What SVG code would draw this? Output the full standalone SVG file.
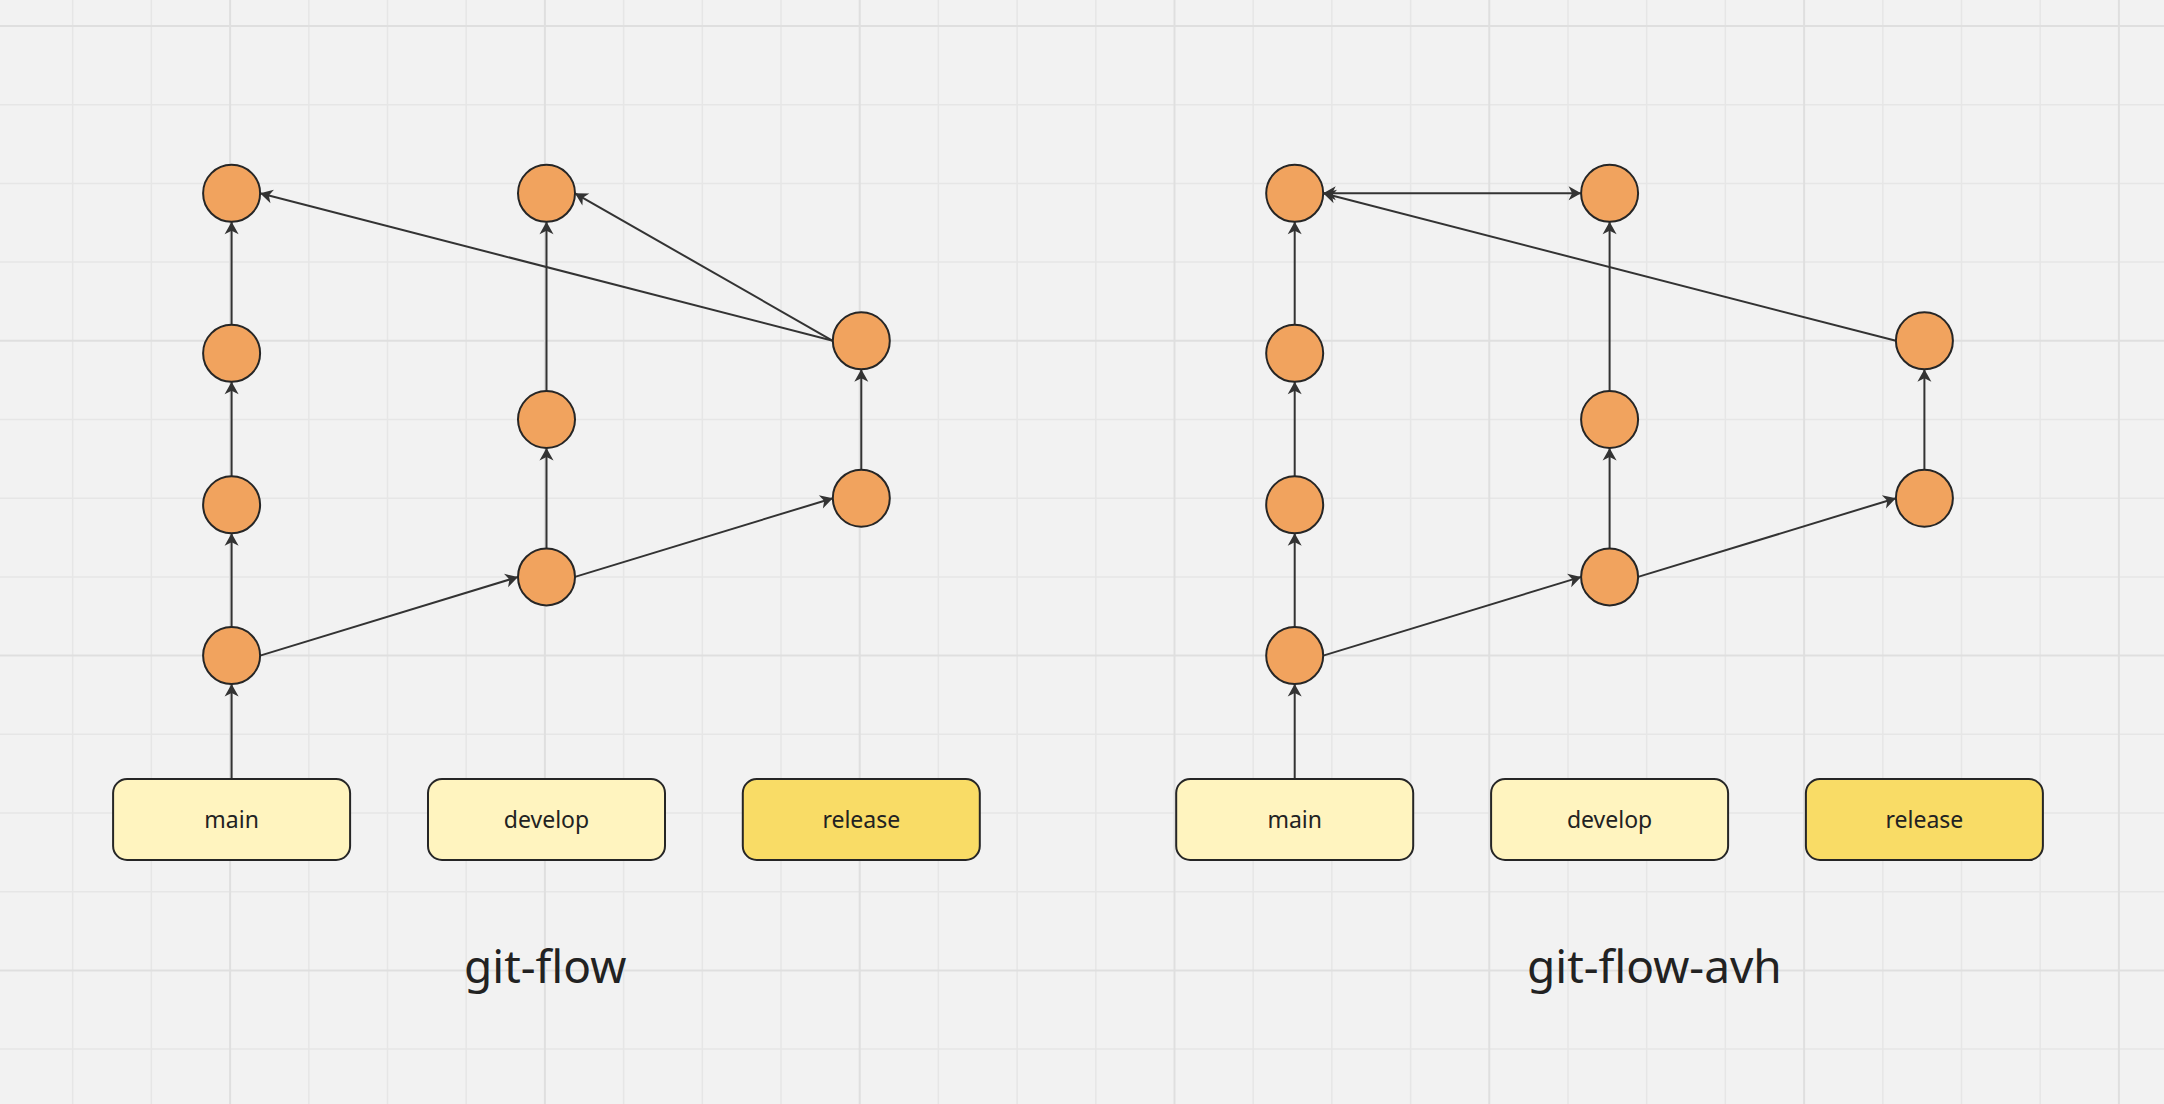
<svg xmlns="http://www.w3.org/2000/svg" width="2164" height="1104" viewBox="0 0 2164 1104">
<style>
.minor{stroke:#e6e6e6;stroke-width:1.5;fill:none}
.major{stroke:#dfdfdf;stroke-width:2;fill:none}
.commit{fill:#f1a35e;stroke:#262626;stroke-width:2}
.branch{fill:#fff4bf;stroke:#262626;stroke-width:2}
.branch.rel{fill:#f9dc66}
.lbl{font-family:"Noto Sans","Open Sans",sans-serif;font-size:23px;fill:#222;text-anchor:middle}
.title{font-family:"Noto Sans","Open Sans",sans-serif;font-size:46px;fill:#222}
.edge{stroke:#333;stroke-width:2;fill:none;marker-end:url(#arr)}
</style>
<defs>
<marker id="arr" markerUnits="userSpaceOnUse" markerWidth="16" markerHeight="16" refX="14" refY="8" orient="auto-start-reverse">
<path d="M14,8 L1.5,1 L5,8 L1.5,15 Z" fill="#333"/>
</marker>
</defs>
<rect width="2164" height="1104" fill="#f2f2f2"/>
<g id="grid">
<path class="minor" d="M72.7,0V1104M151.4,0V1104M308.8,0V1104M387.5,0V1104M466.2,0V1104M623.6,0V1104M702.3,0V1104M781,0V1104M938.4,0V1104M1017.1,0V1104M1095.8,0V1104M1253.2,0V1104M1331.9,0V1104M1410.6,0V1104M1568,0V1104M1646.7,0V1104M1725.4,0V1104M1882.8,0V1104M1961.5,0V1104M2040.2,0V1104M0,104.7H2164M0,183.4H2164M0,262.1H2164M0,419.5H2164M0,498.2H2164M0,576.9H2164M0,734.3H2164M0,813H2164M0,891.7H2164M0,1049.1H2164"/>
<path class="major" d="M230.1,0V1104M544.9,0V1104M859.7,0V1104M1174.5,0V1104M1489.3,0V1104M1804.1,0V1104M2118.9,0V1104M0,26H2164M0,340.8H2164M0,655.6H2164M0,970.4H2164"/>
</g>
<g id="connectors">
<path class="edge" d="M231.6,779V684.1"/>
<path class="edge" d="M231.6,627.1V533.3"/>
<path class="edge" d="M231.6,476.3V381.8"/>
<path class="edge" d="M231.6,324.8V221.8"/>
<path class="edge" d="M260.1,655.6L518,576.9"/>
<path class="edge" d="M546.5,548.4V448"/>
<path class="edge" d="M546.5,391V221.8"/>
<path class="edge" d="M575,576.9L832.8,498.2"/>
<path class="edge" d="M861.3,469.7V369.3"/>
<path class="edge" d="M832.8,340.8L260.1,193.3"/>
<path class="edge" d="M832.8,340.8L575,193.3"/>
<path class="edge" d="M1294.7,779V684.1"/>
<path class="edge" d="M1294.7,627.1V533.3"/>
<path class="edge" d="M1294.7,476.3V381.8"/>
<path class="edge" d="M1294.7,324.8V221.8"/>
<path class="edge" d="M1323.2,655.6L1581.1,576.9"/>
<path class="edge" d="M1609.6,548.4V448"/>
<path class="edge" d="M1609.6,391V221.8"/>
<path class="edge" d="M1638.1,576.9L1895.9,498.2"/>
<path class="edge" d="M1924.4,469.7V369.3"/>
<path class="edge" d="M1895.9,340.8L1323.2,193.3"/>
<path class="edge" d="M1323.2,193.3H1581.1" style="marker-start:url(#arr)"/>
</g>
<g id="gf-main-box"><rect class="branch" x="113.1" y="779" width="237" height="81" rx="14"/><text class="lbl" x="231.6" y="828">main</text></g>
<g id="gf-develop-box"><rect class="branch" x="428" y="779" width="237" height="81" rx="14"/><text class="lbl" x="546.5" y="828">develop</text></g>
<g id="gf-release-box"><rect class="branch rel" x="742.8" y="779" width="237" height="81" rx="14"/><text class="lbl" x="861.3" y="828">release</text></g>
<g id="gf-m1"><circle class="commit" cx="231.6" cy="193.3" r="28.5"/></g>
<g id="gf-m2"><circle class="commit" cx="231.6" cy="353.3" r="28.5"/></g>
<g id="gf-m3"><circle class="commit" cx="231.6" cy="504.8" r="28.5"/></g>
<g id="gf-m4"><circle class="commit" cx="231.6" cy="655.6" r="28.5"/></g>
<g id="gf-d1"><circle class="commit" cx="546.5" cy="193.3" r="28.5"/></g>
<g id="gf-d2"><circle class="commit" cx="546.5" cy="419.5" r="28.5"/></g>
<g id="gf-d3"><circle class="commit" cx="546.5" cy="576.9" r="28.5"/></g>
<g id="gf-r1"><circle class="commit" cx="861.3" cy="340.8" r="28.5"/></g>
<g id="gf-r2"><circle class="commit" cx="861.3" cy="498.2" r="28.5"/></g>
<g id="gf-title"><text class="title" x="464" y="983">git-flow</text></g>
<g id="avh-main-box"><rect class="branch" x="1176.2" y="779" width="237" height="81" rx="14"/><text class="lbl" x="1294.7" y="828">main</text></g>
<g id="avh-develop-box"><rect class="branch" x="1491.1" y="779" width="237" height="81" rx="14"/><text class="lbl" x="1609.6" y="828">develop</text></g>
<g id="avh-release-box"><rect class="branch rel" x="1805.9" y="779" width="237" height="81" rx="14"/><text class="lbl" x="1924.4" y="828">release</text></g>
<g id="avh-m1"><circle class="commit" cx="1294.7" cy="193.3" r="28.5"/></g>
<g id="avh-m2"><circle class="commit" cx="1294.7" cy="353.3" r="28.5"/></g>
<g id="avh-m3"><circle class="commit" cx="1294.7" cy="504.8" r="28.5"/></g>
<g id="avh-m4"><circle class="commit" cx="1294.7" cy="655.6" r="28.5"/></g>
<g id="avh-d1"><circle class="commit" cx="1609.6" cy="193.3" r="28.5"/></g>
<g id="avh-d2"><circle class="commit" cx="1609.6" cy="419.5" r="28.5"/></g>
<g id="avh-d3"><circle class="commit" cx="1609.6" cy="576.9" r="28.5"/></g>
<g id="avh-r1"><circle class="commit" cx="1924.4" cy="340.8" r="28.5"/></g>
<g id="avh-r2"><circle class="commit" cx="1924.4" cy="498.2" r="28.5"/></g>
<g id="avh-title"><text class="title" x="1527" y="983">git-flow-avh</text></g>
</svg>
